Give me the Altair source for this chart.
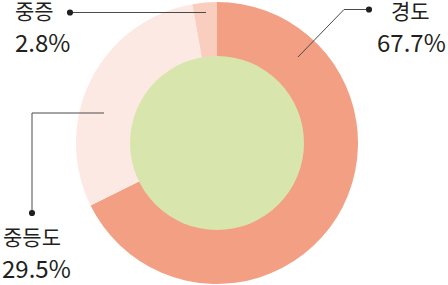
import altair as alt
import pandas as pd

# ---- data ----
categories = ["경도", "중등도", "중증"]
values = [67.7, 29.5, 2.8]
pct_labels = ["67.7%", "29.5%", "2.8%"]
colors = ["#f29f83", "#fde9e3", "#f9cebf"]
center_color = "#d8e6ae"

# ---- annotation layout (pixels) ----
name_x = [391, 3, 15]
name_y = [19, 245, 19]
pct_x = [377, 2, 15]
pct_y = [52, 278, 52]
dot_x = [369, 32, 70]
dot_y = [9.5, 213, 12.5]
# leader line vertices per category
lead = {
    "경도": [(369, 9.5), (344, 9.5), (298, 57)],
    "중등도": [(32, 213), (32, 113), (104, 113)],
    "중증": [(70, 12.5), (206, 12.5)],
}

W, H = 448, 285
CX, CY = 217, 143
R_OUT, R_IN = 141, 86

df = pd.DataFrame({"cat": categories, "value": values, "idx": list(range(len(categories)))})

ring = alt.Chart(df).mark_arc(outerRadius=R_OUT, innerRadius=R_IN).encode(
    theta=alt.Theta("value:Q", stack=True),
    color=alt.Color("cat:N", scale=alt.Scale(domain=categories, range=colors), legend=None),
    order=alt.Order("idx:Q"),
    x=alt.value(CX),
    y=alt.value(CY),
)

center = alt.Chart(pd.DataFrame({"a": [0]})).mark_arc(
    radius=R_IN + 1, theta=0, theta2=6.2832, color=center_color
).encode(x=alt.value(CX), y=alt.value(CY))

xs = alt.Scale(domain=[0, W], range=[0, W], nice=False, zero=False)
ys = alt.Scale(domain=[0, H], range=[0, H], nice=False, zero=False)

rows = []
for c, pts in lead.items():
    for i, (px, py) in enumerate(pts):
        rows.append({"grp": c, "ord": i, "x": px, "y": py})
lines_df = pd.DataFrame(rows)

lines = alt.Chart(lines_df).mark_line(color="#4a4a4a", strokeWidth=1).encode(
    x=alt.X("x:Q", scale=xs, axis=None),
    y=alt.Y("y:Q", scale=ys, axis=None),
    detail="grp:N",
    order="ord:Q",
)

dots_df = pd.DataFrame({"x": dot_x, "y": dot_y})
dots = alt.Chart(dots_df).mark_circle(size=38, color="#231f20", opacity=1).encode(
    x=alt.X("x:Q", scale=xs, axis=None),
    y=alt.Y("y:Q", scale=ys, axis=None),
)

names_df = pd.DataFrame({"x": name_x, "y": name_y, "t": categories})
names = alt.Chart(names_df).mark_text(
    align="left", baseline="alphabetic", font="Noto Sans CJK KR", fontSize=21, color="#231f20"
).encode(
    x=alt.X("x:Q", scale=xs, axis=None),
    y=alt.Y("y:Q", scale=ys, axis=None),
    text="t:N",
)

pcts_df = pd.DataFrame({"x": pct_x, "y": pct_y, "t": pct_labels})
pcts = alt.Chart(pcts_df).mark_text(
    align="left", baseline="alphabetic", font="Noto Sans CJK KR", fontSize=24, color="#231f20"
).encode(
    x=alt.X("x:Q", scale=xs, axis=None),
    y=alt.Y("y:Q", scale=ys, axis=None),
    text="t:N",
)

chart = alt.layer(ring, center, lines, dots, names, pcts).properties(
    width=W, height=H, padding=0, autosize=alt.AutoSizeParams(type="none")
).configure_view(stroke=None)

chart.save("out.html", embed_options={"renderer": "svg", "actions": False})
